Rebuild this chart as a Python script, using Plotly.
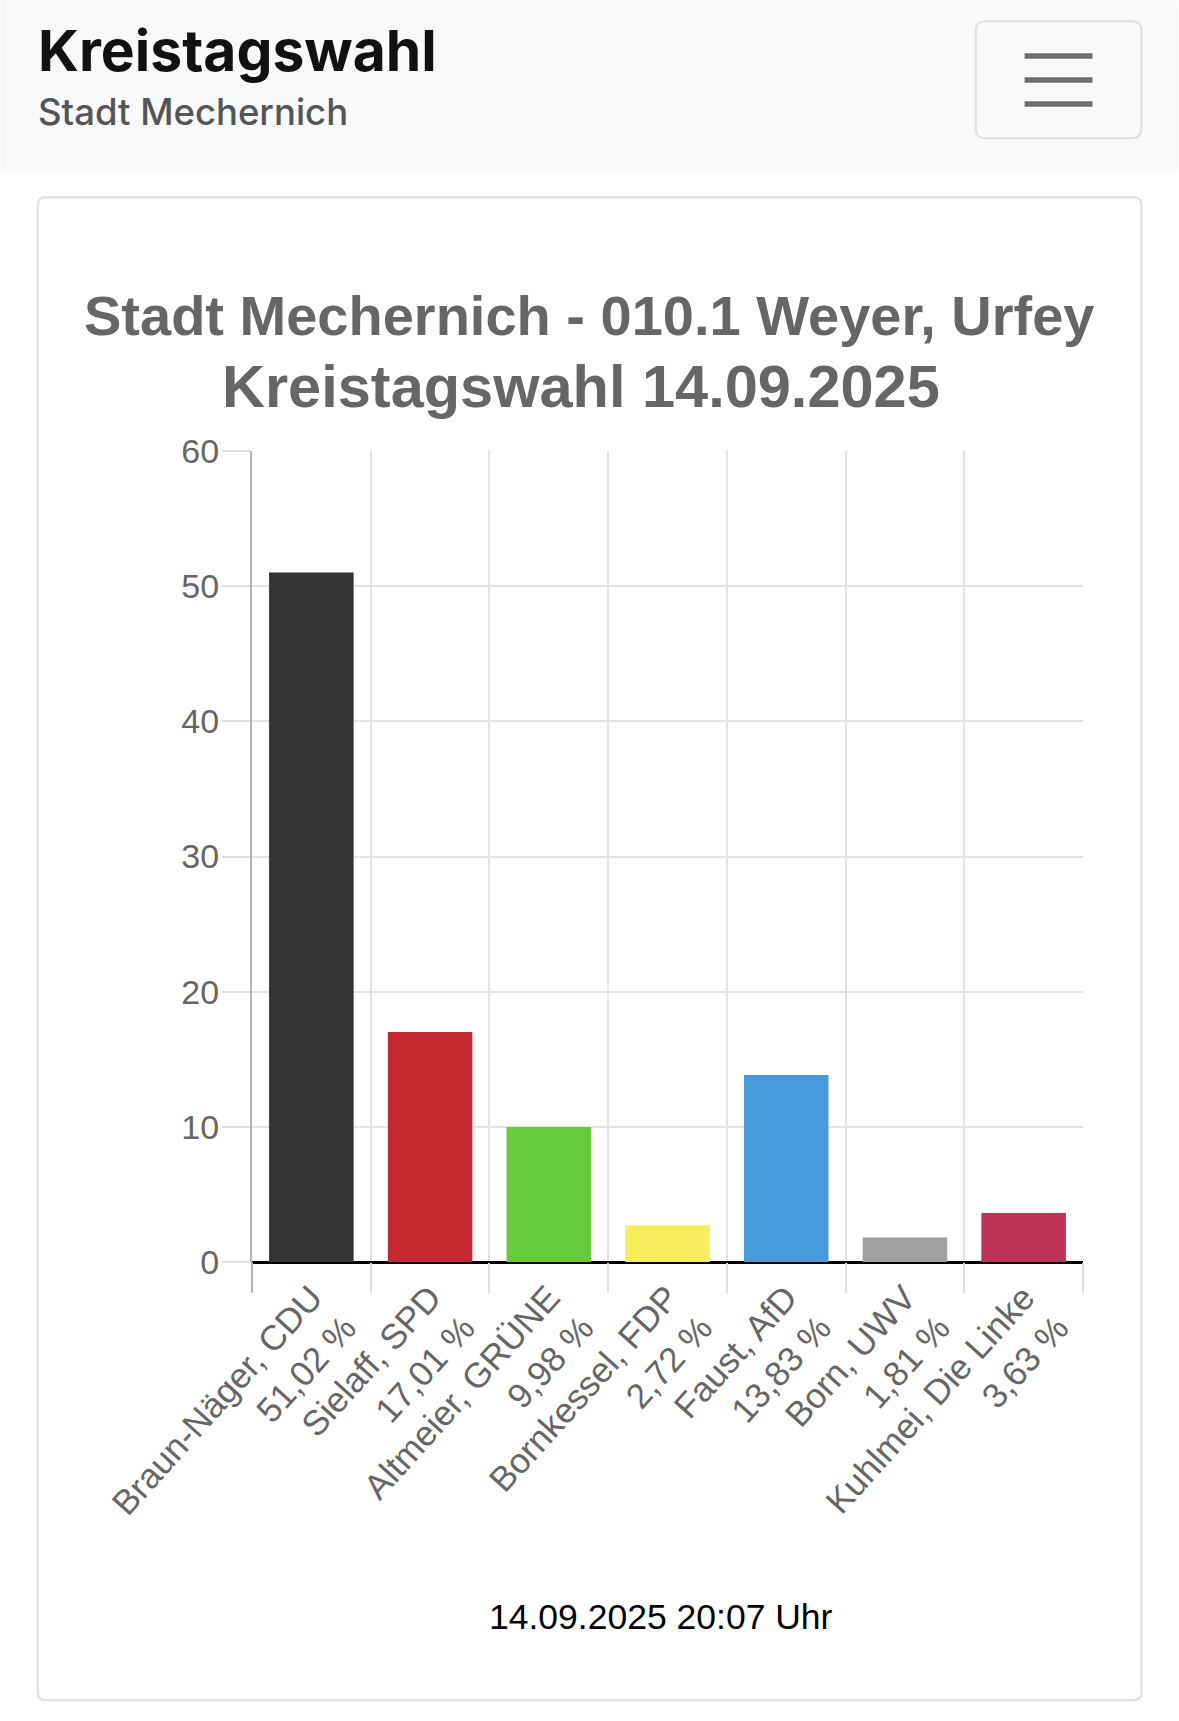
import plotly.graph_objects as go

# ---- data ----
candidates = ["Braun-Näger, CDU", "Sielaff, SPD", "Altmeier, GRÜNE", "Bornkessel, FDP",
              "Faust, AfD", "Born, UWV", "Kuhlmei, Die Linke"]
shares = [51.02, 17.01, 9.98, 2.72, 13.83, 1.81, 3.63]
bar_colors = ["#333333", "#c3292f", "#66cc3d", "#f7ec5c", "#479bdb", "#a0a0a0", "#be335a"]
y_ticks = [0, 10, 20, 30, 40, 50, 60]

page_title = "Kreistagswahl"
page_subtitle = "Stadt Mechernich"
chart_title_1 = "Stadt Mechernich - 010.1 Weyer, Urfey"
chart_title_2 = "Kreistagswahl 14.09.2025"
footer = "14.09.2025 20:07 Uhr"

tick_text = [f"{c}<br>{('%.2f' % v).replace('.', ',')} %" for c, v in zip(candidates, shares)]

# ---- geometry (pixels) ----
W, H = 1179, 1721
L, R = 251.5, 1083.5
T, B = 451.0, 1262.5
PW, PH = R - L, B - T


def px(x):
    return (x - L) / PW


def py(y):
    return (B - y) / PH


def rrect(x0, y0, x1, y1, r):
    pts = [
        ("M", [(x0 + r, y0)]), ("L", [(x1 - r, y0)]), ("Q", [(x1, y0), (x1, y0 + r)]),
        ("L", [(x1, y1 - r)]), ("Q", [(x1, y1), (x1 - r, y1)]),
        ("L", [(x0 + r, y1)]), ("Q", [(x0, y1), (x0, y1 - r)]),
        ("L", [(x0, y0 + r)]), ("Q", [(x0, y0), (x0 + r, y0)]),
    ]
    s = ""
    for cmd, p in pts:
        s += cmd + " " + " ".join(f"{px(a):.5f},{py(b):.5f}" for a, b in p) + " "
    return s + "Z"


fig = go.Figure()
fig.add_trace(go.Bar(
    x=candidates, y=shares, marker=dict(color=bar_colors, line=dict(width=0)),
    hoverinfo="skip", showlegend=False,
))

shapes = [
    dict(type="rect", xref="paper", yref="paper", x0=px(0), x1=px(W), y0=py(0), y1=py(172),
         fillcolor="#f8f9fa", line=dict(width=0), layer="below"),
    dict(type="path", xref="paper", yref="paper", path=rrect(976, 21, 1142, 138, 10),
         line=dict(color="#dedede", width=2), layer="below"),
    dict(type="path", xref="paper", yref="paper", path=rrect(37, 197, 1142, 1701, 8),
         fillcolor="white", line=dict(color="#e0e0e0", width=2), layer="below"),
    dict(type="line", xref="paper", yref="paper", x0=px(L), x1=px(L), y0=py(B), y1=py(1293),
         line=dict(color="#b3b3b3", width=2)),
]
for yy in (55.7, 79.7, 103.7):
    shapes.append(dict(type="line", xref="paper", yref="paper", x0=px(1025), x1=px(1093),
                       y0=py(yy), y1=py(yy), line=dict(color="#707070", width=5.5)))

annotations = [
    dict(text=f"<b>{page_title}</b>", x=px(35), y=py(50.6), xanchor="left", yanchor="middle",
         font=dict(family="Inter", size=57, color="#111111", weight=900)),
    dict(text=page_subtitle, x=px(35), y=py(111.6), xanchor="left", yanchor="middle",
         font=dict(family="Inter", size=36.5, color="#555555", weight=500)),
    dict(text=f"<b>{chart_title_1}</b>", x=px(589.5), y=py(315.6), xanchor="center", yanchor="middle",
         font=dict(family="Liberation Sans", size=56, color="#666666")),
    dict(text=f"<b>{chart_title_2}</b>", x=px(580.7), y=py(386), xanchor="center", yanchor="middle",
         font=dict(family="Liberation Sans", size=59.5, color="#666666")),
    dict(text=footer, x=px(661), y=py(1618), xanchor="center", yanchor="middle",
         font=dict(family="Liberation Sans", size=35.5, color="#000000")),
]
for a in annotations:
    a.update(xref="paper", yref="paper", showarrow=False)

fig.update_layout(
    width=W, height=H,
    margin=dict(l=L, r=W - R, t=T, b=H - B, pad=0),
    paper_bgcolor="white", plot_bgcolor="white",
    bargap=0.288,
    shapes=shapes, annotations=annotations,
    font=dict(family="Liberation Sans", color="#666666"),
    xaxis=dict(
        type="category", tickson="boundaries", ticks="outside", ticklen=30, tickwidth=2,
        tickcolor="#e0e0e0", showgrid=True, gridcolor="#e3e3e3", gridwidth=2,
        tickangle=-48, tickvals=candidates, ticktext=tick_text,
        tickfont=dict(family="Liberation Sans", size=35, color="#666666"),
        ticklabelstandoff=7,
        showline=False, zeroline=False, fixedrange=True,
    ),
    yaxis=dict(
        range=[0, 60], tickvals=y_ticks, ticks="outside", ticklen=28, tickwidth=2,
        tickcolor="#e0e0e0", showgrid=True, gridcolor="#e3e3e3", gridwidth=2,
        showline=True, linecolor="#b3b3b3", linewidth=2,
        zeroline=True, zerolinecolor="#000000", zerolinewidth=3,
        tickfont=dict(family="Liberation Sans", size=34, color="#666666"),
        ticklabelstandoff=-4,
        fixedrange=True,
    ),
)

fig.write_html("out.html", config={"displayModeBar": False},
               post_script="document.body.style.margin='0';document.body.style.overflow='hidden';")
